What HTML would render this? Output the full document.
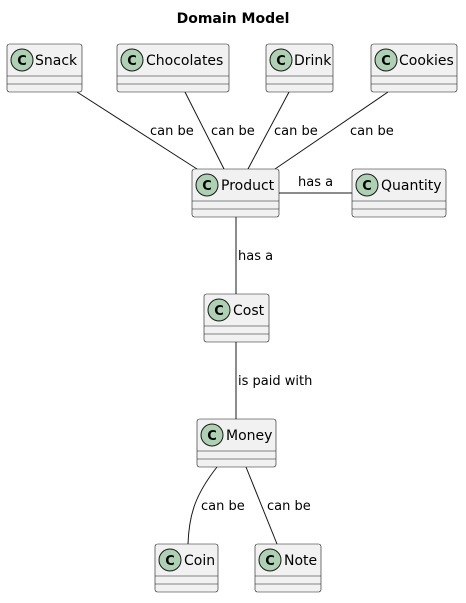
<!DOCTYPE html>
<html><head><style>body{margin:0;background:#fff}</style></head><body>
<svg width="466" height="598" xmlns="http://www.w3.org/2000/svg" font-family="DejaVu Sans, Liberation Sans, sans-serif">
<text x="233" y="23" text-anchor="middle" font-weight="bold" font-size="14">Domain Model</text>
<g stroke="#181818" stroke-width="1" fill="none">
<line x1="77" y1="92" x2="197" y2="169"/>
<line x1="185" y1="92" x2="224" y2="169"/>
<line x1="289" y1="92" x2="248" y2="169"/>
<line x1="388" y1="92" x2="275" y2="169"/>
<line x1="279" y1="193" x2="352" y2="193"/>
<line x1="236" y1="217" x2="236" y2="294"/>
<line x1="236" y1="342" x2="236" y2="419"/>
<path d="M217,467 C195,495 189,515 188,544"/>
<line x1="246" y1="467" x2="277" y2="544"/>
</g>
<g font-size="13" fill="#000">
<text x="150" y="135">can be</text>
<text x="211" y="135">can be</text>
<text x="274" y="135">can be</text>
<text x="350" y="135">can be</text>
<text x="298" y="186">has a</text>
<text x="238" y="260">has a</text>
<text x="238" y="385">is paid with</text>
<text x="201" y="510">can be</text>
<text x="267" y="510">can be</text>
</g>
<g font-size="14">
<!-- boxes -->
<g id="b"></g>
</g>
<g stroke="#181818" stroke-width="0.6" fill="#F1F1F1">
<rect x="7" y="44" width="75" height="48" rx="2.5"/>
<rect x="117" y="44" width="112" height="48" rx="2.5"/>
<rect x="266" y="44" width="67" height="48" rx="2.5"/>
<rect x="371" y="44" width="86" height="48" rx="2.5"/>
<rect x="192" y="169" width="87" height="48" rx="2.5"/>
<rect x="352" y="169" width="94" height="48" rx="2.5"/>
<rect x="204" y="294" width="65" height="48" rx="2.5"/>
<rect x="197" y="419" width="79" height="48" rx="2.5"/>
<rect x="155" y="544" width="63" height="48" rx="2.5"/>
<rect x="255" y="544" width="66" height="48" rx="2.5"/>
</g>
<g stroke="#181818" stroke-width="0.6">
<path d="M7,76h75M7,84h75M117,76h112M117,84h112M266,76h67M266,84h67M371,76h86M371,84h86M192,201h87M192,209h87M352,201h94M352,209h94M204,326h65M204,334h65M197,451h79M197,459h79M155,576h63M155,584h63M255,576h66M255,584h66"/>
</g>
<g stroke="#181818" stroke-width="1" fill="#ADD1B2">
<circle cx="22" cy="60" r="11"/><circle cx="132" cy="60" r="11"/><circle cx="281" cy="60" r="11"/><circle cx="386" cy="60" r="11"/>
<circle cx="207" cy="185" r="11"/><circle cx="367" cy="185" r="11"/><circle cx="219" cy="310" r="11"/><circle cx="212" cy="435" r="11"/>
<circle cx="170" cy="560" r="11"/><circle cx="270" cy="560" r="11"/>
</g>
<g font-size="13" font-weight="bold" text-anchor="middle" fill="#000">
<text x="22" y="65">C</text><text x="132" y="65">C</text><text x="281" y="65">C</text><text x="386" y="65">C</text>
<text x="207" y="190">C</text><text x="367" y="190">C</text><text x="219" y="315">C</text><text x="212" y="440">C</text>
<text x="170" y="565">C</text><text x="270" y="565">C</text>
</g>
<g font-size="14" fill="#000">
<text x="35" y="65">Snack</text><text x="146" y="65">Chocolates</text><text x="294" y="65">Drink</text><text x="399" y="65">Cookies</text>
<text x="221" y="190">Product</text><text x="381" y="190">Quantity</text><text x="233" y="315">Cost</text><text x="226" y="440">Money</text>
<text x="184" y="565">Coin</text><text x="284" y="565">Note</text>
</g>
</svg>
</body></html>
